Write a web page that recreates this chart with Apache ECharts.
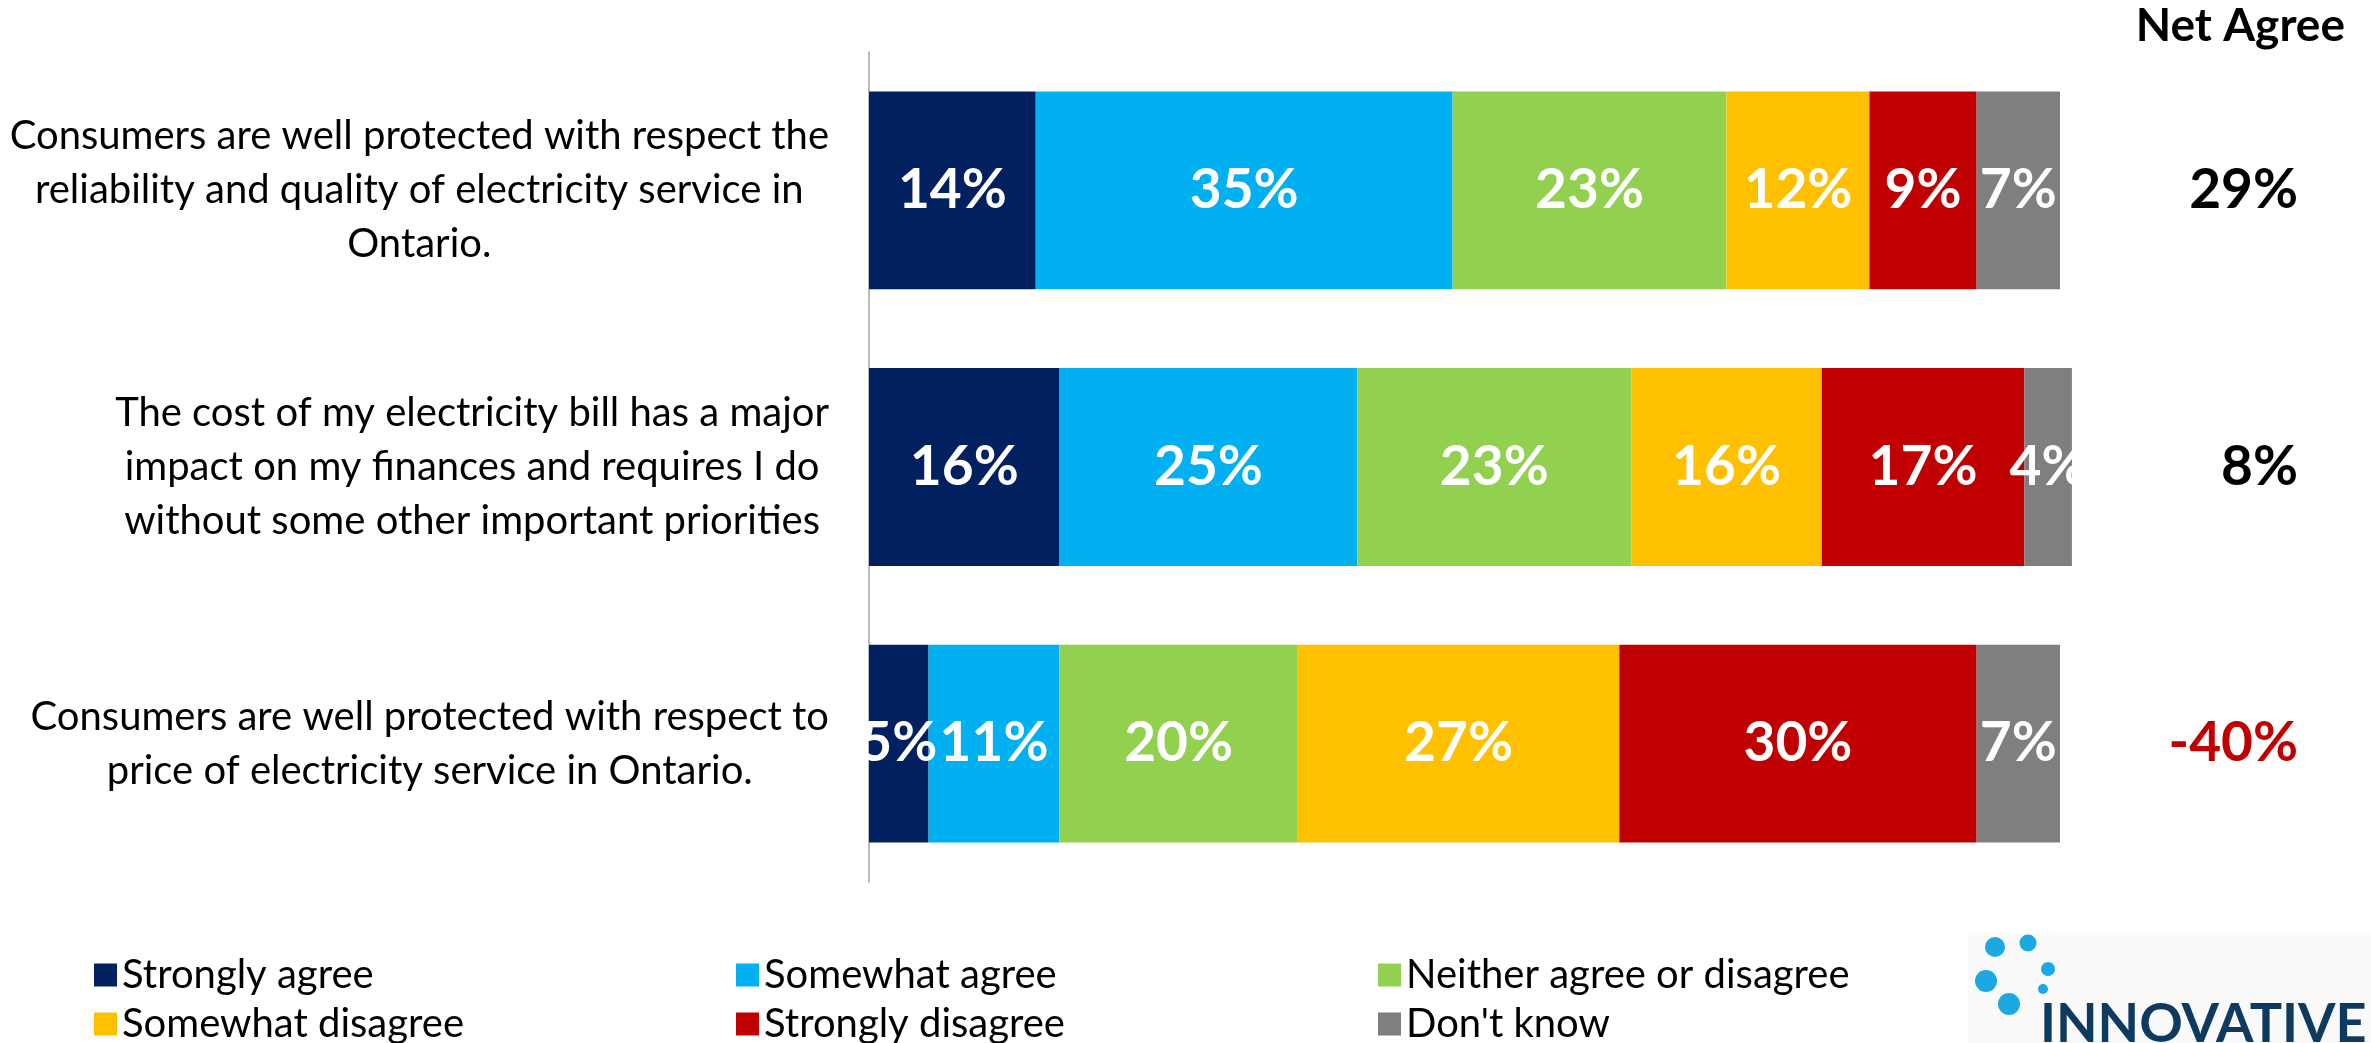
<!DOCTYPE html>
<html>
<head>
<meta charset="utf-8">
<script src="https://cdn.jsdelivr.net/npm/echarts@6/dist/echarts.min.js"></script>
<style>
  html, body { margin: 0; padding: 0; background: #fff; }
  #chart { width: 2371px; height: 1043px; }
</style>
</head>
<body>
<div id="chart"></div>
<script>
// Survey statements (line breaks as laid out beside the bars)
const categories = [
  'Consumers are well protected with respect the\nreliability and quality of electricity service in\nOntario.',
  'The cost of my electricity bill has a major\nimpact on my finances and requires I do\nwithout some other important priorities',
  'Consumers are well protected with respect to\nprice of electricity service in Ontario.'
];

// Response shares (%) per statement, in the order of the categories above
const stronglyAgree    = [14, 16, 5];
const somewhatAgree    = [35, 25, 11];
const neither          = [23, 23, 20];
const somewhatDisagree = [12, 16, 27];
const stronglyDisagree = [9, 17, 30];
const dontKnow         = [7, 4, 7];

// Net agree (%) shown at the right of each bar
const netAgree = [29, 8, -40];

const seriesNames = ['Strongly agree', 'Somewhat agree', 'Neither agree or disagree',
                     'Somewhat disagree', 'Strongly disagree', "Don't know"];
const seriesData = [stronglyAgree, somewhatAgree, neither, somewhatDisagree, stronglyDisagree, dontKnow];
const colors = ['#002060', '#00B0F0', '#92D050', '#FFC000', '#C00000', '#7F7F7F'];

const FONT = 'Lato';

const chart = echarts.init(document.getElementById('chart'), null, { renderer: 'canvas' });

const legendBase = {
  orient: 'horizontal',
  left: 94,
  padding: 0,
  icon: 'rect',
  itemWidth: 23,
  itemHeight: 23,
  itemGap: 54,
  selectedMode: false,
  textStyle: { fontFamily: FONT, fontSize: 40, color: '#000', width: 560, lineHeight: 40 }
};

chart.setOption({
  backgroundColor: '#fff',
  animation: false,
  color: colors,
  title: {
    text: 'Net Agree',
    right: 26,
    top: 3,
    padding: 0,
    textStyle: { fontFamily: FONT, fontSize: 46, fontWeight: 'bold', color: '#000' }
  },
  legend: [
    Object.assign({}, legendBase, { top: 955, data: seriesNames.slice(0, 3) }),
    Object.assign({}, legendBase, { top: 1004, data: seriesNames.slice(3) })
  ],
  grid: { left: 869, right: 311, top: 52, bottom: 161, containLabel: false },
  xAxis: {
    type: 'value',
    min: 0,
    max: 100,
    show: false
  },
  yAxis: [
    {
      type: 'category',
      data: categories,
      inverse: true,
      axisLine: { show: true, lineStyle: { color: '#A6A6A6', width: 1.5 } },
      axisTick: { show: false },
      axisLabel: {
        interval: 0,
        margin: 40,
        align: 'right',
        formatter: function (v) {
          return v.split('\n').map(function (l) { return '{c|' + l + '}'; }).join('\n');
        },
        rich: {
          c: { align: 'center', fontFamily: FONT, fontSize: 40, lineHeight: 54, color: '#000' }
        }
      }
    },
    {
      type: 'category',
      data: categories,
      inverse: true,
      position: 'right',
      axisLine: { show: false },
      axisTick: { show: false },
      axisLabel: {
        interval: 0,
        margin: 238,
        align: 'right',
        formatter: function (v, i) {
          const n = netAgree[i];
          return (n < 0 ? '{neg|' : '{pos|') + n + '%}';
        },
        rich: {
          pos: { fontFamily: FONT, fontSize: 55, fontWeight: 'bold', color: '#000' },
          neg: { fontFamily: FONT, fontSize: 55, fontWeight: 'bold', color: '#C00000' }
        }
      }
    }
  ],
  graphic: [
    { type: 'rect', shape: { x: 1968, y: 933, width: 403, height: 110 }, style: { fill: '#FAFAFA' }, z: 0 },
    { type: 'circle', shape: { cx: 1995, cy: 947, r: 10 }, style: { fill: '#1CA8E3' } },
    { type: 'circle', shape: { cx: 2028, cy: 943, r: 8.5 }, style: { fill: '#1CA8E3' } },
    { type: 'circle', shape: { cx: 1986, cy: 981, r: 11 }, style: { fill: '#1CA8E3' } },
    { type: 'circle', shape: { cx: 2048, cy: 969, r: 7 }, style: { fill: '#1CA8E3' } },
    { type: 'circle', shape: { cx: 2043, cy: 989, r: 5 }, style: { fill: '#1CA8E3' } },
    { type: 'circle', shape: { cx: 2009, cy: 1004, r: 11 }, style: { fill: '#1CA8E3' } },
    {
      type: 'text',
      left: 2040,
      top: 998,
      style: { text: 'INNOVATIVE', fill: '#0E3A5F', font: 'bold 54px Lato' }
    }
  ],
  series: seriesNames.map(function (name, k) {
    return {
      name: name,
      type: 'bar',
      stack: 'total',
      yAxisIndex: 0,
      barCategoryGap: '28.5%',
      clip: false,
      data: seriesData[k],
      itemStyle: { color: colors[k] },
      label: {
        show: true,
        position: 'inside',
        formatter: '{c}%',
        color: '#fff',
        fontFamily: FONT,
        fontSize: 55,
        fontWeight: 'bold',
        textBorderWidth: 0
      },
      emphasis: { disabled: true }
    };
  })
});
</script>
</body>
</html>
